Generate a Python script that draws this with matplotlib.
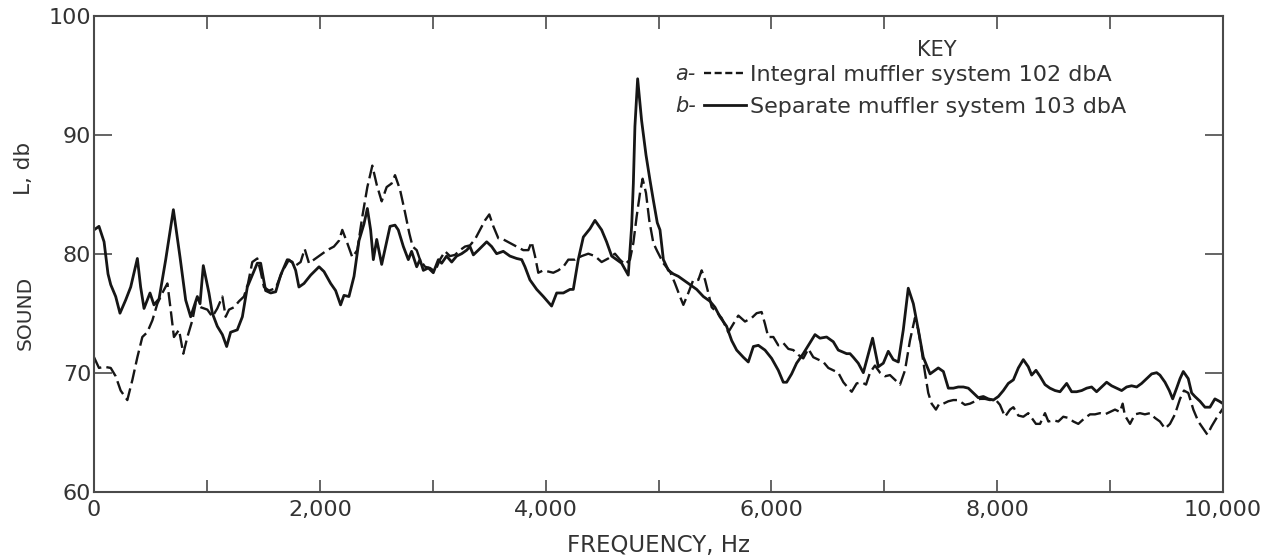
import matplotlib
matplotlib.use("Agg")
import matplotlib.pyplot as plt
from matplotlib.lines import Line2D

# separate muffler system (solid)
freq_sep = [0, 44, 89, 124, 148, 192, 230, 280, 325, 384, 413, 443, 496, 531, 576,
            635, 703, 762, 812, 856, 915, 939, 968, 1018, 1048, 1092, 1137, 1175,
            1210, 1269, 1314, 1358, 1402, 1446, 1476, 1520, 1565, 1609, 1653, 1712,
            1756, 1786, 1815, 1860, 1919, 1993, 2037, 2096, 2140, 2184, 2214, 2258,
            2303, 2347, 2391, 2421, 2450, 2474, 2504, 2548, 2622, 2666, 2695, 2740,
            2784, 2813, 2858, 2887, 2917, 2961, 3005, 3050, 3079, 3123, 3168, 3212,
            3256, 3301, 3330, 3360, 3404, 3478, 3522, 3566, 3625, 3684, 3743, 3788,
            3817, 3861, 3921, 3980, 4053, 4098, 4157, 4216, 4245, 4289, 4334, 4393,
            4437, 4496, 4540, 4585, 4629, 4673, 4732, 4762, 4777, 4791, 4815, 4850,
            4889, 4924, 4954, 4989, 5013, 5043, 5087, 5131, 5175, 5220, 5279, 5338,
            5397, 5456, 5500, 5544, 5603, 5648, 5692, 5751, 5795, 5840, 5884, 5943,
            6002, 6061, 6105, 6135, 6179, 6223, 6282, 6341, 6386, 6430, 6489, 6548,
            6592, 6666, 6696, 6725, 6769, 6814, 6896, 6947, 6991, 7035, 7079, 7124,
            7168, 7212, 7257, 7301, 7345, 7405, 7434, 7478, 7523, 7567, 7611, 7655,
            7700, 7744, 7788, 7832, 7877, 7921, 7965, 8010, 8054, 8098, 8143, 8187,
            8231, 8275, 8305, 8343, 8379, 8423, 8467, 8512, 8556, 8615, 8659, 8703,
            8748, 8792, 8836, 8880, 8925, 8969, 9013, 9058, 9102, 9146, 9190, 9235,
            9279, 9323, 9368, 9412, 9441, 9486, 9524, 9554, 9589, 9619, 9648, 9692,
            9722, 9751, 9796, 9840, 9884, 9928, 9967, 10000]
level_sep = [82.0, 82.3, 81.0, 78.3, 77.4, 76.4, 75.0, 76.1, 77.2, 79.6, 77.2, 75.4,
             76.7, 75.7, 76.2, 79.5, 83.7, 79.7, 76.1, 74.7, 76.4, 75.8, 79.0, 76.7,
             75.0, 73.9, 73.2, 72.2, 73.4, 73.6, 74.7, 77.2, 78.2, 79.2, 79.2, 76.9,
             76.7, 76.8, 78.2, 79.5, 79.3, 78.6, 77.2, 77.5, 78.2, 78.9, 78.5, 77.5,
             76.9, 75.7, 76.5, 76.4, 78.1, 81.1, 82.5, 83.8, 82.0, 79.5, 81.2, 79.1,
             82.3, 82.4, 82.0, 80.6, 79.5, 80.2, 78.9, 79.5, 78.6, 78.8, 78.4, 79.5,
             79.2, 79.8, 79.3, 79.8, 80.0, 80.3, 80.6, 79.9, 80.3, 81.0, 80.6, 80.0,
             80.2, 79.8, 79.6, 79.5, 78.9, 77.8, 77.0, 76.4, 75.6, 76.7, 76.7, 77.0,
             77.0, 79.5, 81.4, 82.1, 82.8, 82.0, 81.0, 79.8, 79.5, 79.2, 78.2, 82.3,
             85.9, 90.7, 94.7, 91.2, 88.3, 86.2, 84.5, 82.6, 82.0, 79.5, 78.6, 78.3,
             78.1, 77.8, 77.4, 77.0, 76.4, 76.0, 75.5, 74.7, 73.9, 72.7, 71.9, 71.3,
             70.9, 72.2, 72.3, 71.9, 71.2, 70.2, 69.2, 69.2, 69.9, 70.8, 71.6, 72.5,
             73.2, 72.9, 73.0, 72.6, 71.9, 71.6, 71.6, 71.3, 70.8, 70.0, 72.9, 70.5,
             70.8, 71.8, 71.1, 70.9, 73.6, 77.1, 75.8, 73.6, 71.3, 69.9, 70.1, 70.4,
             70.1, 68.7, 68.7, 68.8, 68.8, 68.7, 68.3, 67.9, 68.0, 67.8, 67.7, 68.0,
             68.5, 69.1, 69.4, 70.4, 71.1, 70.5, 69.8, 70.2, 69.7, 69.0, 68.7, 68.5,
             68.4, 69.1, 68.4, 68.4, 68.5, 68.7, 68.8, 68.4, 68.8, 69.2, 68.9, 68.7,
             68.5, 68.8, 68.9, 68.8, 69.1, 69.5, 69.9, 70.0, 69.8, 69.2, 68.5, 67.8,
             68.7, 69.5, 70.1, 69.5, 68.3, 68.0, 67.6, 67.1, 67.1, 67.8, 67.6, 67.4]

# integral muffler system (dashed)
freq_int = [0, 44, 89, 148, 192, 236, 295, 340, 384, 428, 472, 517, 561, 605, 650,
            679, 708, 753, 791, 827, 871, 900, 945, 1004, 1048, 1092, 1137, 1166,
            1196, 1240, 1284, 1328, 1364, 1402, 1446, 1476, 1505, 1550, 1609, 1668,
            1727, 1786, 1830, 1866, 1904, 1948, 2007, 2066, 2125, 2170, 2199, 2243,
            2288, 2332, 2376, 2421, 2465, 2504, 2548, 2592, 2636, 2666, 2710, 2754,
            2793, 2822, 2858, 2887, 2932, 2976, 3020, 3064, 3109, 3153, 3197, 3242,
            3286, 3330, 3374, 3419, 3463, 3501, 3537, 3581, 3625, 3684, 3743, 3802,
            3847, 3876, 3906, 3935, 3980, 4024, 4068, 4112, 4157, 4201, 4260, 4319,
            4378, 4437, 4496, 4555, 4614, 4658, 4703, 4747, 4777, 4806, 4836, 4859,
            4889, 4918, 4954, 4989, 5043, 5102, 5146, 5190, 5220, 5264, 5308, 5353,
            5382, 5412, 5441, 5471, 5515, 5559, 5618, 5663, 5707, 5766, 5825, 5869,
            5913, 5943, 5972, 6017, 6061, 6105, 6150, 6194, 6238, 6282, 6327, 6371,
            6415, 6460, 6504, 6548, 6592, 6637, 6681, 6711, 6755, 6799, 6838, 6873,
            6917, 6962, 7006, 7050, 7094, 7139, 7183, 7227, 7271, 7301, 7330, 7360,
            7389, 7419, 7457, 7487, 7523, 7567, 7611, 7655, 7714, 7759, 7803, 7847,
            7892, 7936, 7980, 8024, 8069, 8113, 8143, 8187, 8231, 8275, 8305, 8343,
            8379, 8423, 8453, 8497, 8541, 8585, 8630, 8674, 8718, 8777, 8822, 8866,
            8910, 8954, 8998, 9043, 9087, 9111, 9131, 9176, 9220, 9264, 9308, 9353,
            9397, 9441, 9486, 9530, 9574, 9619, 9654, 9692, 9737, 9781, 9825, 9861,
            9899, 9943, 9979, 10000]
level_int = [71.3, 70.4, 70.5, 70.4, 69.7, 68.5, 67.7, 69.4, 71.3, 73.0, 73.4, 74.4,
             75.8, 76.7, 77.5, 75.3, 73.0, 73.6, 71.6, 73.0, 74.4, 75.8, 75.5, 75.3,
             74.7, 75.4, 76.4, 74.7, 75.3, 75.5, 76.0, 76.4, 77.5, 79.3, 79.6, 78.5,
             77.2, 76.9, 77.1, 78.5, 79.5, 79.0, 79.3, 80.4, 79.2, 79.5, 79.9, 80.3,
             80.6, 81.1, 82.0, 80.9, 79.7, 80.3, 83.1, 85.6, 87.4, 85.8, 84.4, 85.6,
             85.9, 86.6, 85.4, 83.5, 81.7, 80.6, 80.3, 79.5, 78.9, 78.8, 78.5, 79.5,
             80.2, 79.8, 79.9, 80.3, 80.6, 80.7, 81.2, 82.0, 82.8, 83.3, 82.3, 81.3,
             81.2, 80.9, 80.6, 80.3, 80.3, 81.0, 79.8, 78.4, 78.6, 78.5, 78.4, 78.6,
             78.9, 79.5, 79.5, 79.8, 80.0, 79.8, 79.3, 79.6, 80.0, 79.5, 79.1, 79.5,
             80.9, 83.1, 85.1, 86.3, 85.1, 82.8, 80.9, 80.2, 79.2, 78.5, 77.5, 76.4,
             75.7, 76.7, 77.8, 77.8, 78.6, 77.8, 76.7, 75.5, 75.1, 74.6, 73.4, 74.1,
             74.8, 74.3, 74.6, 75.0, 75.1, 74.1, 73.0, 73.0, 72.3, 72.5, 72.0, 71.9,
             71.5, 71.2, 72.0, 71.3, 71.1, 70.9, 70.4, 70.2, 70.0, 69.2, 68.7, 68.4,
             69.1, 69.2, 69.0, 70.0, 70.6, 70.0, 69.7, 69.8, 69.4, 69.0, 70.2, 72.7,
             74.6, 73.6, 71.9, 70.0, 68.3, 67.4, 66.9, 67.4, 67.4, 67.6, 67.7, 67.7,
             67.3, 67.4, 67.6, 67.8, 67.8, 67.7, 67.8, 67.3, 66.3, 66.9, 67.1, 66.4,
             66.3, 66.6, 66.2, 65.7, 65.7, 66.6, 65.9, 66.0, 65.9, 66.3, 66.2, 65.9,
             65.7, 66.2, 66.5, 66.5, 66.6, 66.5, 66.7, 66.9, 66.7, 67.4, 66.4, 65.7,
             66.5, 66.6, 66.5, 66.6, 66.2, 65.9, 65.3, 65.7, 66.5, 67.8, 68.5, 68.3,
             66.9, 65.9, 65.3, 64.8, 65.5, 66.2, 66.7, 67.0]

xticks = [0, 1000, 2000, 3000, 4000, 5000, 6000, 7000, 8000, 9000, 10000]
xticklabels = ["0", "", "2,000", "", "4,000", "", "6,000", "", "8,000", "", "10,000"]
yticks = [60, 70, 80, 90, 100]

ink = "#161616"
frame = "#4a4a4a"
txt = "#333333"

plt.rcParams["font.family"] = ["DejaVu Sans"]

fig = plt.figure(figsize=(12.67, 5.59), dpi=100)
ax = fig.add_axes([0.0742, 0.1204, 0.8911, 0.8515])

ax.plot(freq_sep, level_sep, color=ink, lw=2.0, solid_joinstyle="round")
ax.plot(freq_int, level_int, color=ink, lw=1.7, linestyle=(0, (6, 2.2)))

ax.set_xlim(0, 10000)
ax.set_ylim(60, 100)
ax.set_xticks(xticks)
ax.set_xticklabels(xticklabels)
ax.set_yticks(yticks)

for s in ax.spines.values():
    s.set_color(frame)
    s.set_linewidth(1.5)

ax.tick_params(axis="x", direction="in", length=9, width=1.2, color=frame,
               top=True, labelsize=16, labelcolor=txt, pad=6)
ax.tick_params(axis="y", direction="in", length=13, width=1.2, color=frame,
               right=True, labelsize=16, labelcolor=txt, pad=2)

ax.set_xlabel("FREQUENCY, Hz", fontsize=16.5, color=txt, labelpad=10)

# y label is split in the original: "SOUND" low, "L, db" higher up
fig.text(0.020, 1 - 313 / 559, "SOUND", rotation=90, fontsize=14.5, color=txt,
         ha="center", va="center")
fig.text(0.019, 1 - 168 / 559, "L, db", rotation=90, fontsize=15.5, color=txt,
         ha="center", va="center")

# key
ax.text((937 - 94) / 1129, 1 - (50 - 15.7) / 476, "KEY", transform=ax.transAxes,
        fontsize=15, color=txt, ha="center", va="center")
handles = [Line2D([], [], color=ink, lw=1.7, linestyle=(0, (3, 1.5))),
           Line2D([], [], color=ink, lw=2.0)]
labels = ["Integral muffler system 102 dbA", "Separate muffler system 103 dbA"]
leg = ax.legend(handles, labels, loc="upper left", bbox_to_anchor=(0.540, 0.897),
                frameon=False, fontsize=16, handlelength=1.9, handletextpad=0.2,
                labelspacing=0.55, borderpad=0, borderaxespad=0)
for t in leg.get_texts():
    t.set_color(txt)

ax.text(0.515, 1 - (74 - 15.7) / 476, "a-", transform=ax.transAxes, fontsize=15,
        style="italic", color=txt, va="center")
ax.text(0.515, 1 - (106 - 15.7) / 476, "b-", transform=ax.transAxes, fontsize=15,
        style="italic", color=txt, va="center")

fig.savefig("out.png", dpi=100, facecolor="white")
